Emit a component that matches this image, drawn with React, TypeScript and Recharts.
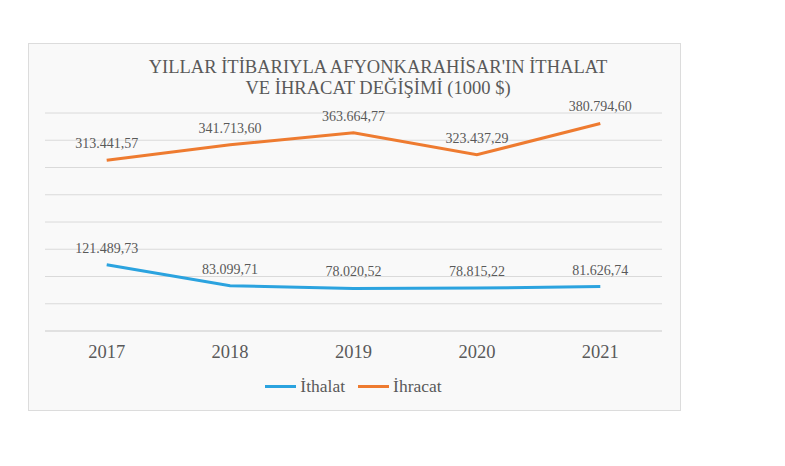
import { LineChart, Line, XAxis, YAxis, CartesianGrid, LabelList } from "recharts";

const years = ["2017", "2018", "2019", "2020", "2021"];
const ithalat = [121489.73, 83099.71, 78020.52, 78815.22, 81626.74];
const ihracat = [313441.57, 341713.6, 363664.77, 323437.29, 380794.6];
const yTicks = [0, 50000, 100000, 150000, 200000, 250000, 300000, 350000, 400000];

const data = years.map((year, i) => ({ year, ithalat: ithalat[i], ihracat: ihracat[i] }));

const BLUE = "#2ba3df";
const ORANGE = "#ee7b30";
const TEXT = "#595959";
const FONT = "'Liberation Serif', 'DejaVu Serif', serif";

const fmt = (v: number) =>
  v.toLocaleString("tr-TR", { minimumFractionDigits: 2, maximumFractionDigits: 2 });

function ValueLabel(props: any) {
  const { x, y, value } = props;
  return (
    <text x={x} y={y - 12} textAnchor="middle" fill={TEXT} fontSize={14} fontFamily={FONT}>
      {fmt(Number(value))}
    </text>
  );
}

function ChartLegend() {
  const items = [
    { name: "İthalat", color: BLUE },
    { name: "İhracat", color: ORANGE },
  ];
  return (
    <div style={{ display: "flex", justifyContent: "center", gap: 13, fontFamily: FONT, fontSize: 17.5, color: TEXT }}>
      {items.map((it) => (
        <div key={it.name} style={{ display: "flex", alignItems: "center" }}>
          <span style={{ display: "inline-block", width: 31, height: 3, background: it.color, marginRight: 4 }} />
          <span>{it.name}</span>
        </div>
      ))}
    </div>
  );
}

export default function App() {
  return (
    <div
      style={{
        position: "relative",
        marginLeft: 20,
        marginTop: 35,
        width: 651,
        height: 366,
        border: "1px solid #dcdcdc",
        background: "#f9f9f9",
      }}
    >
      <div style={{ position: "absolute", left: 0, top: 0 }}>
        <LineChart width={651} height={366} data={data} margin={{ top: 69, right: 18, left: 16, bottom: 49 }}>
          <CartesianGrid vertical={false} stroke="#dadada" syncWithTicks />
          <XAxis
            dataKey="year"
            scale="band"
            axisLine={{ stroke: "#d9d9d9" }}
            tickLine={false}
            tickMargin={8}
            tick={{ fill: TEXT, fontSize: 18.5, fontFamily: FONT }}
          />
          <YAxis
            domain={[0, 400000]}
            ticks={yTicks}
            width={0}
            tick={() => <g />}
            axisLine={false}
            tickLine={false}
          />
          <Line dataKey="ithalat" name="İthalat" stroke={BLUE} strokeWidth={3} dot={false} isAnimationActive={false}>
            <LabelList dataKey="ithalat" content={<ValueLabel />} />
          </Line>
          <Line dataKey="ihracat" name="İhracat" stroke={ORANGE} strokeWidth={3} dot={false} isAnimationActive={false}>
            <LabelList dataKey="ihracat" content={<ValueLabel />} />
          </Line>
        </LineChart>
      </div>
      <div
        style={{
          position: "absolute",
          left: -1,
          top: 12,
          width: 700,
          textAlign: "center",
          fontFamily: FONT,
          fontSize: 19,
          lineHeight: "21px",
          color: TEXT,
          transform: "scaleX(0.975)",
        }}
      >
        YILLAR İTİBARIYLA AFYONKARAHİSAR'IN İTHALAT
        <br />
        VE İHRACAT DEĞİŞİMİ (1000 $)
      </div>
      <div style={{ position: "absolute", left: 16, top: 332, width: 617 }}>
        <ChartLegend />
      </div>
    </div>
  );
}
